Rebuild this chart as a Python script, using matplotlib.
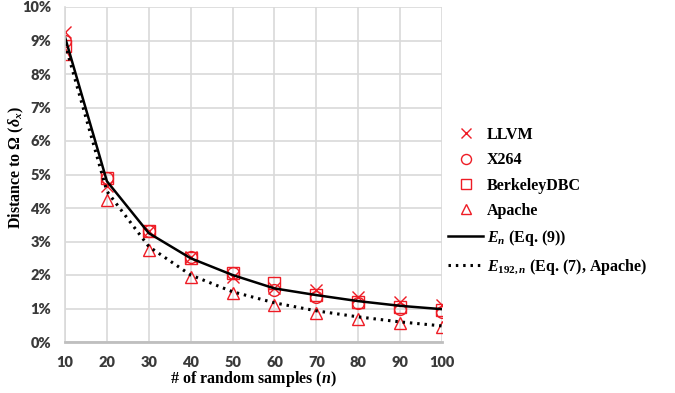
import matplotlib
matplotlib.use('Agg')
from matplotlib import pyplot as plt
from matplotlib.ticker import FuncFormatter

# data (values in %)
n_samples = [10, 20, 30, 40, 50, 60, 70, 80, 90, 100]
llvm = [9.25, 4.65, 3.3, 2.55, 1.95, 1.6, 1.55, 1.35, 1.2, 1.1]
x264 = [9.0, 4.9, 3.3, 2.55, 2.05, 1.55, 1.35, 1.15, 1.0, 0.9]
berkeley = [8.85, 4.9, 3.3, 2.5, 2.05, 1.75, 1.4, 1.2, 1.05, 0.95]
apache = [8.6, 4.25, 2.75, 1.95, 1.45, 1.1, 0.88, 0.7, 0.58, 0.45]
e_n = [9.1, 4.8, 3.25, 2.5, 2.0, 1.6, 1.4, 1.22, 1.08, 0.98]
e_192 = [8.9, 4.5, 2.85, 2.0, 1.5, 1.17, 0.93, 0.75, 0.6, 0.48]

plt.rcParams['mathtext.fontset'] = 'custom'
plt.rcParams['mathtext.rm'] = 'Liberation Serif:bold'
plt.rcParams['mathtext.it'] = 'Liberation Serif:italic:bold'
plt.rcParams['mathtext.bf'] = 'Liberation Serif:bold'

red = '#EE1C25'
grid_c = '#D9D9D9'

fig = plt.figure(figsize=(6.75, 3.93), dpi=100)
ax = fig.add_axes([65/675, 51/393, (442-65)/675, (342-7)/393])

mk = dict(linestyle='none', color=red, mfc='none', mew=1.0, ms=8.5)
ax.plot(n_samples, llvm, marker='x', label='LLVM', **mk)
ax.plot(n_samples, x264, marker='o', label='X264', **mk)
ax.plot(n_samples, berkeley, marker='s', label='BerkeleyDBC', **mk)
ax.plot(n_samples, apache, marker='^', label='Apache', **mk)
ax.plot(n_samples, e_n, color='black', lw=1.8, label=r'$E_n$ (Eq. (9))')
ax.plot(n_samples, e_192, color='black', lw=2.2, linestyle=(0, (0.8, 1.6)),
        label=r'$E_{192,n}$ (Eq. (7), Apache)')

ax.set_xlim(10, 100)
ax.set_ylim(0, 10)
ax.set_xticks(n_samples)
ax.set_yticks(range(0, 11))
ax.yaxis.set_major_formatter(FuncFormatter(lambda v, p: '{:d}%'.format(int(v))))
ax.grid(True, color=grid_c, lw=1.2)
ax.set_axisbelow(True)
ax.tick_params(length=0, pad=10, labelsize=10.5, labelcolor='#3A3A3A')
for lab in ax.get_xticklabels() + ax.get_yticklabels():
    lab.set_family('Lato')
    lab.set_weight('heavy')
for s in ['top', 'right']:
    ax.spines[s].set_visible(False)
ax.spines['left'].set_color(grid_c)
ax.spines['left'].set_linewidth(1.2)
ax.spines['bottom'].set_color('#BFBFBF')
ax.spines['bottom'].set_linewidth(2)

ax.set_xlabel(r'# of random samples ($n$)', family='Liberation Serif',
              weight='bold', fontsize=11.5, labelpad=0)
ax.set_ylabel(r'Distance to $\Omega$ ($\delta_x$)', family='Liberation Serif',
              weight='bold', fontsize=11.5)
ax.yaxis.set_label_coords(-0.104, 0.52)

leg = fig.legend(loc='upper left', bbox_to_anchor=(448/675, 1-127/393),
                 frameon=False, handlelength=2.2, handletextpad=0.25,
                 labelspacing=0.58, numpoints=1, markerscale=0.85,
                 borderpad=0, borderaxespad=0,
                 prop={'family': 'Liberation Serif', 'weight': 'bold', 'size': 11.5})

fig.savefig('out.png', dpi=100)
